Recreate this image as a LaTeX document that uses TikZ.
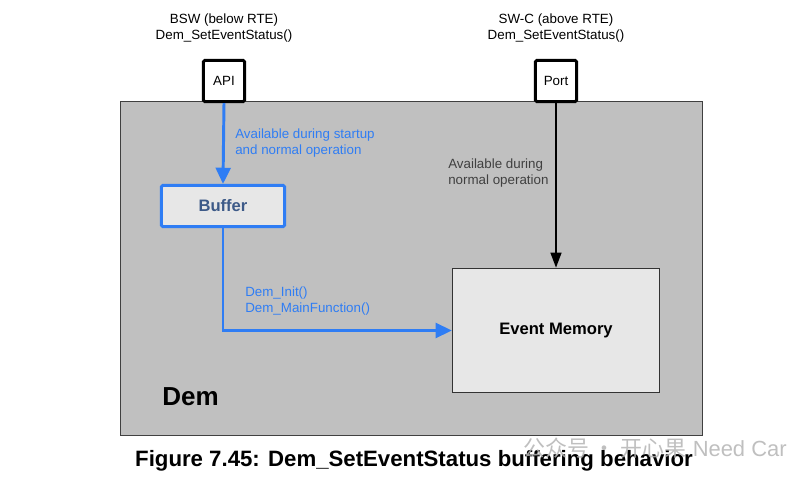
\documentclass[tikz,border=0pt]{standalone}
\usepackage{fontspec}
\setmainfont{Liberation Sans}
\newfontfamily\cjk{Noto Sans CJK SC}
\usetikzlibrary{arrows.meta}
\definecolor{dembg}{HTML}{C0C0C0}
\definecolor{boxfill}{HTML}{E7E7E7}
\definecolor{flowblue}{HTML}{2F7DF4}
\definecolor{bufftext}{HTML}{3D5A88}
\definecolor{notegray}{HTML}{404040}
\definecolor{wmgray}{HTML}{B4B4B4}
\begin{document}
\begin{tikzpicture}[x=0.025cm, y=-0.025cm,
  lbl/.style={font=\fontsize{9.5}{11}\selectfont, align=center, inner sep=0pt},
  portbox/.style={draw, line width=2.1pt, rounded corners=1pt, fill=white,
    minimum width=1.03cm, minimum height=1.03cm, inner sep=0pt, font=\fontsize{9.5}{11}\selectfont},
  flow/.style={flowblue, line width=2.1pt, -{Triangle[length=11.5pt, width=10.5pt]}}]
\useasboundingbox (0,0) rectangle (812,480);

% Dem area
\draw[fill=dembg, draw=black!75, line width=0.7pt] (120,101) rectangle (702,435);
\node[anchor=base west, inner sep=0pt, font=\fontsize{18.5}{20}\selectfont\bfseries] (dem) at (162,405) {Dem};

% interfaces
\node[lbl] (bswlbl) at (224,28) {BSW (below RTE)\\Dem\_SetEventStatus()};
\node[lbl] (swclbl) at (556,28) {SW-C (above RTE)\\Dem\_SetEventStatus()};
\node[portbox] (api) at (224,81) {API};
\node[portbox] (port) at (556,81) {Port};

% boxes
\node[draw=flowblue, line width=2.1pt, rounded corners=1pt, fill=boxfill,
  minimum width=3.08cm, minimum height=1.03cm,
  font=\fontsize{11.8}{13}\selectfont\bfseries, text=bufftext] (buffer) at (223,206) {Buffer};
\node[draw=black!80, line width=0.7pt, fill=boxfill,
  minimum width=5.18cm, minimum height=3.1cm,
  font=\fontsize{11.8}{13}\selectfont\bfseries] (evmem) at (556,330.5) {Event Memory};

% connectors
\draw[flow] (api.south) -- (buffer.north);
\draw[flow] (buffer.south) |- (evmem.west);
\draw[line width=2.1pt, -{Triangle[length=11pt, width=7.5pt]}] (port.south) -- (evmem.north);

% notes
\node[lbl, anchor=west, align=left, text=flowblue] (startup) at (235,143) {Available during startup\\and normal operation};
\node[lbl, anchor=west, align=left, text=notegray] (normal) at (448,173) {Available during\\normal operation};
\node[lbl, anchor=west, align=left, text=flowblue] (init) at (245,301) {Dem\_Init()\\Dem\_MainFunction()};

% caption
\node[anchor=base, inner sep=0pt, font=\fontsize{15.8}{17}\selectfont\bfseries] (caption) at (414,466) {Figure 7.45: Dem\_SetEventStatus buffering behavior};
\node[anchor=west, inner sep=0pt, text=wmgray, opacity=0.85, font=\fontsize{15.6}{17}\selectfont] (wm) at (523,448) {{\cjk 公众号 · 开心果} Need Car};
\end{tikzpicture}
\end{document}
